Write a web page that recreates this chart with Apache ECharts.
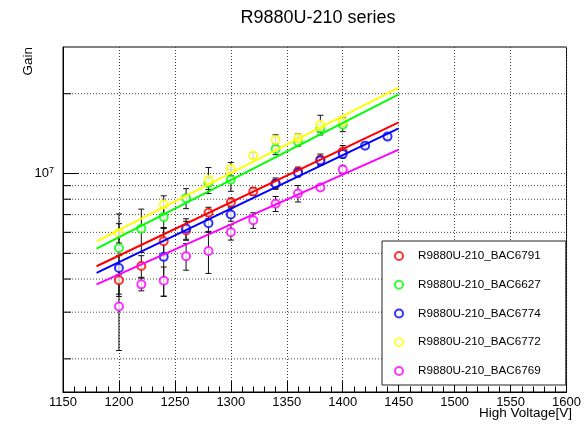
<!DOCTYPE html>
<html>
<head>
<meta charset="utf-8">
<script src="https://cdn.jsdelivr.net/npm/echarts@6/dist/echarts.min.js"></script>
<style>
  html, body { margin: 0; padding: 0; background: #fff; }
  #chart { width: 584px; height: 425px; }
</style>
</head>
<body>
<div id="chart"></div>
<script>
// high voltage points (V)
const voltages = [1200, 1220, 1240, 1260, 1280, 1300, 1320, 1340, 1360, 1380, 1400, 1420, 1440];

// measured gain per tube, null = no point
const gain6791 = [3.96e6, 4.48e6, 5.55e6, 6.10e6, 7.11e6, 7.78e6, 8.56e6, 9.17e6, 1.017e7, 1.129e7, 1.21e7, null, null];
const gain6627 = [5.24e6, 6.19e6, 6.85e6, 8.07e6, 9.20e6, 9.47e6, null, 1.238e7, 1.319e7, 1.48e7, 1.528e7, null, null];
const gain6774 = [4.40e6, null, 4.85e6, 6.20e6, 6.50e6, 7.01e6, null, 9.15e6, 1.006e7, 1.119e7, 1.186e7, 1.274e7, 1.378e7];
const gain6772 = [5.97e6, null, 7.64e6, null, 9.47e6, 1.041e7, 1.169e7, 1.339e7, 1.36e7, 1.528e7, 1.568e7, null, null];
const gain6769 = [3.15e6, 3.82e6, 3.94e6, 4.88e6, 5.10e6, 6.01e6, 6.66e6, 7.69e6, 8.41e6, 8.86e6, 1.035e7, null, null];

// errors
const err6791 = [0.45e6, 0.42e6, 0.66e6, 0.5e6, 0.35e6, 0.3e6, 0.3e6, 0.45e6, 0.4e6, 0.55e6, 0.65e6, null, null];
const err6627 = [1.8e6, 1.15e6, 0.6e6, 0.7e6, 0.5e6, 0.9e6, null, 0.6e6, 0.5e6, 0.5e6, 0.9e6, null, null];
const err6774 = [0.5e6, null, 1.4e6, 0.55e6, 0.45e6, 0.4e6, null, 0.35e6, 0.35e6, 0.4e6, 0.4e6, 0.25e6, 0.3e6];
const err6772 = [0.5e6, null, 0.6e6, null, 1.07e6, 0.6e6, 0.3e6, 0.6e6, 0.5e6, 1.3e6, 0.6e6, null, null];
const err6769 = [1.0e6, 0.21e6, 0.5e6, 0.56e6, 0.9e6, 0.4e6, 0.45e6, 0.5e6, 0.6e6, 0.2e6, 0.35e6, null, null];

// fit lines, end points
const fitVoltages = [1180, 1450];
const fit6791 = [4.47e6, 1.56e7];
const fit6627 = [5.21e6, 1.99e7];
const fit6774 = [4.22e6, 1.48e7];
const fit6772 = [5.55e6, 2.11e7];
const fit6769 = [3.82e6, 1.23e7];

// y grid lines (log axis)
const yGridValues = [2e6, 3e6, 4e6, 5e6, 6e6, 7e6, 8e6, 9e6, 1e7, 2e7];

const font = 'Liberation Sans, Arial, Helvetica, sans-serif';

const tubes = [
  { name: 'R9880U-210_BAC6791', color: '#ff0000', gain: gain6791, err: err6791, fit: fit6791 },
  { name: 'R9880U-210_BAC6627', color: '#00ff00', gain: gain6627, err: err6627, fit: fit6627 },
  { name: 'R9880U-210_BAC6774', color: '#0000ff', gain: gain6774, err: err6774, fit: fit6774 },
  { name: 'R9880U-210_BAC6772', color: '#ffff00', gain: gain6772, err: err6772, fit: fit6772 },
  { name: 'R9880U-210_BAC6769', color: '#ff00ff', gain: gain6769, err: err6769, fit: fit6769 }
];

let chart = echarts.init(document.getElementById('chart'));

let series = [];

// dotted y grid + left ticks
series.push({
  type: 'custom',
  z: 1,
  silent: true,
  data: yGridValues.map(v => [1150, v]),
  renderItem: function (params, api) {
    let p = api.coord([1150, api.value(1)]);
    let cs = params.coordSys;
    let tickLen = Math.abs(api.value(1) - 1e7) < 1 ? 16 : 8;
    return {
      type: 'group',
      children: [
        { type: 'line', shape: { x1: cs.x, y1: p[1], x2: cs.x + cs.width, y2: p[1] },
          style: { stroke: '#444', lineWidth: 1, lineDash: [1, 2] } },
        { type: 'line', shape: { x1: cs.x, y1: p[1], x2: cs.x + tickLen, y2: p[1] },
          style: { stroke: '#000', lineWidth: 1 } }
      ]
    };
  }
});

tubes.forEach(t => {
  let pts = [];
  let errs = [];
  voltages.forEach((v, i) => {
    if (t.gain[i] != null) {
      pts.push([v, t.gain[i]]);
      errs.push([v, t.gain[i], t.err[i]]);
    }
  });
  // error bars
  series.push({
    type: 'custom',
    name: t.name + ' err',
    z: 2,
    silent: true,
    data: errs,
    renderItem: function (params, api) {
      let x = api.value(0), y = api.value(1), e = api.value(2);
      let lo = api.coord([x, y - e]);
      let hi = api.coord([x, y + e]);
      let st = { stroke: '#111', lineWidth: 1 };
      return {
        type: 'group',
        children: [
          { type: 'line', shape: { x1: lo[0], y1: lo[1], x2: hi[0], y2: hi[1] }, style: st },
          { type: 'line', shape: { x1: lo[0] - 3, y1: lo[1], x2: lo[0] + 3, y2: lo[1] }, style: st },
          { type: 'line', shape: { x1: hi[0] - 3, y1: hi[1], x2: hi[0] + 3, y2: hi[1] }, style: st }
        ]
      };
    }
  });
  // points
  series.push({
    type: 'scatter',
    name: t.name,
    z: 3,
    symbol: 'emptyCircle',
    symbolSize: 8,
    itemStyle: { color: t.color, borderColor: t.color, borderWidth: 1 },
    data: pts
  });
  // fit
  series.push({
    type: 'line',
    name: t.name + ' fit',
    z: 4,
    showSymbol: false,
    silent: true,
    lineStyle: { color: t.color, width: 2 },
    data: fitVoltages.map((v, i) => [v, t.fit[i]])
  });
});

let option = {
  animation: false,
  backgroundColor: '#fff',
  grid: {
    left: 63, right: 12, top: 47, bottom: 33,
    show: true, borderColor: '#000', borderWidth: 1
  },
  xAxis: {
    type: 'value',
    min: 1150, max: 1600, interval: 50,
    axisLine: { lineStyle: { color: '#000', width: 1 } },
    axisTick: { inside: true, length: 11, lineStyle: { color: '#000' } },
    minorTick: { show: true, splitNumber: 5, length: 5.5, lineStyle: { color: '#000' } },
    splitLine: { show: true, lineStyle: { color: '#444', type: [1, 2], width: 1 } },
    axisLabel: { fontSize: 13, color: '#000', margin: 4, fontFamily: font, formatter: v => String(v) }
  },
  yAxis: {
    type: 'log',
    logBase: 10,
    min: 1.5e6, max: 3e7,
    axisLine: { show: true, lineStyle: { color: '#000', width: 1 } },
    axisTick: { show: false },
    splitLine: { show: false },
    axisLabel: {
      margin: 9,
      formatter: function (v) {
        return Math.abs(v - 1e7) < 10 ? '{b|10}{s|7}' : '';
      },
      rich: {
        b: { fontSize: 13, color: '#000', fontFamily: font, lineHeight: 16, verticalAlign: 'middle' },
        s: { fontSize: 9, color: '#000', fontFamily: font, lineHeight: 16, verticalAlign: 'top' }
      }
    }
  },
  legend: {
    orient: 'vertical',
    left: 382, top: 241,
    padding: [9, 25, 8, 12],
    itemGap: 16.75,
    itemWidth: 8, itemHeight: 8,
    backgroundColor: '#fff',
    borderColor: '#222', borderWidth: 1,
    textStyle: { fontSize: 11.7, color: '#000', fontFamily: font, padding: [0, 0, 0, 10], lineHeight: 12 },
    data: tubes.map(t => t.name)
  },
  graphic: [
    { type: 'text', x: 318, y: 18, style: { text: 'R9880U-210 series', fontSize: 18, fontFamily: font, fill: '#000', align: 'center', verticalAlign: 'middle' } },
    { type: 'text', x: 28, y: 47, rotation: Math.PI / 2, style: { text: 'Gain', fontSize: 13.5, fontFamily: font, fill: '#000', align: 'right', verticalAlign: 'middle' } },
    { type: 'text', x: 572, y: 413, style: { text: 'High Voltage[V]', fontSize: 13.5, fontFamily: font, fill: '#000', align: 'right', verticalAlign: 'middle' } }
  ],
  series: series
};

chart.setOption(option);
</script>
</body>
</html>
